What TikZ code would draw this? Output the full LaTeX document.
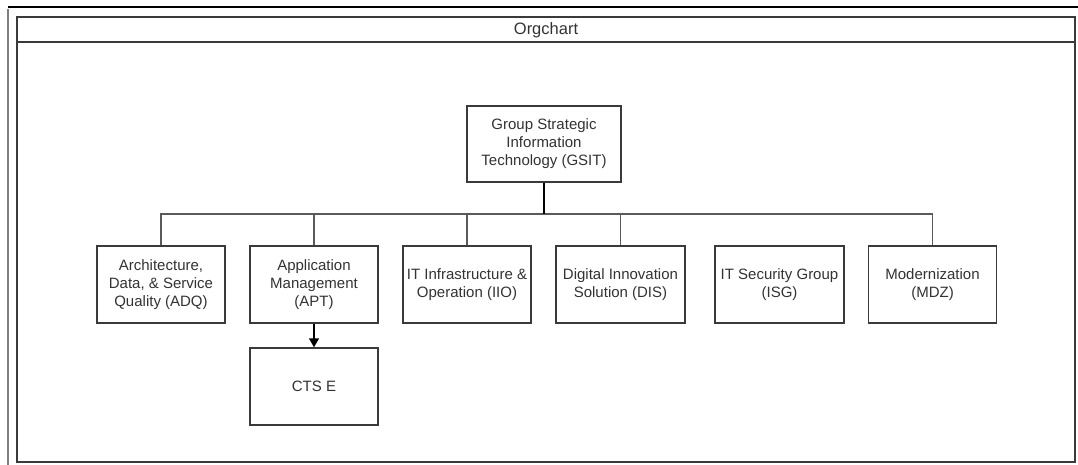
\documentclass[tikz,border=0pt]{standalone}
\usepackage{fontspec}
\setmainfont{Liberation Sans}
\usetikzlibrary{arrows.meta}
\definecolor{boxline}{HTML}{3A3A3A}
\definecolor{txt}{HTML}{333333}
\definecolor{busline}{HTML}{5A5A5A}
\tikzset{
  orgbox/.style={draw=boxline, line width=1.5pt, fill=white, inner sep=0pt,
    minimum width=128pt, minimum height=77pt, align=center, text=txt,
    font=\fontsize{15}{18}\selectfont},
  busl/.style={draw=busline, line width=1.6pt},
}
\begin{document}
\begin{tikzpicture}[x=1pt,y=-1pt]
\useasboundingbox (0,0) rectangle (1078,465);
% screenshot frame
\draw[black, line width=1.8pt] (8,7) -- (1078,7);
\draw[gray, line width=2.4pt] (8,9) -- (8,465);
% container
\draw[boxline, line width=1.5pt] (17,17) rectangle (1075,462);
\draw[boxline, line width=1.5pt] (17,42) -- (1075,42);
\node[font=\fontsize{16.5}{18}\selectfont, text=txt] (title) at (546,30) {Orgchart};
% nodes
\node[orgbox, minimum width=154pt, minimum height=76pt] (gsit) at (544,144) {Group Strategic\\Information\\Technology (GSIT)};
\node[orgbox] (adq) at (161,284.5) {Architecture,\\Data, \& Service\\Quality (ADQ)};
\node[orgbox] (apt) at (314,284.5) {Application\\Management\\(APT)};
\node[orgbox] (iio) at (467,284.5) {IT Infrastructure \&\\Operation (IIO)};
\node[orgbox, minimum width=129pt] (dis) at (620.5,284.5) {Digital Innovation\\Solution (DIS)};
\node[orgbox, minimum width=129pt] (isg) at (779.5,284.5) {IT Security Group\\(ISG)};
\node[orgbox] (mdz) at (932.5,284.5) {Modernization\\(MDZ)};
\node[orgbox] (cts) at (314,386.5) {CTS E};
% connectors
\coordinate (bus) at (544,214);
\draw[busl] (adq.north) |- (bus) -| (mdz.north);
\draw[busl] (apt.north) -- (apt.north |- bus);
\draw[busl] (iio.north) -- (iio.north |- bus);
\draw[busl] (dis.north) -- (dis.north |- bus);
\draw[black, line width=2.2pt] (gsit.south) -- (bus);
\draw[black, line width=1.5pt, -{Triangle[length=9pt,width=10pt]}] (apt.south) -- (cts.north);
\end{tikzpicture}
\end{document}
